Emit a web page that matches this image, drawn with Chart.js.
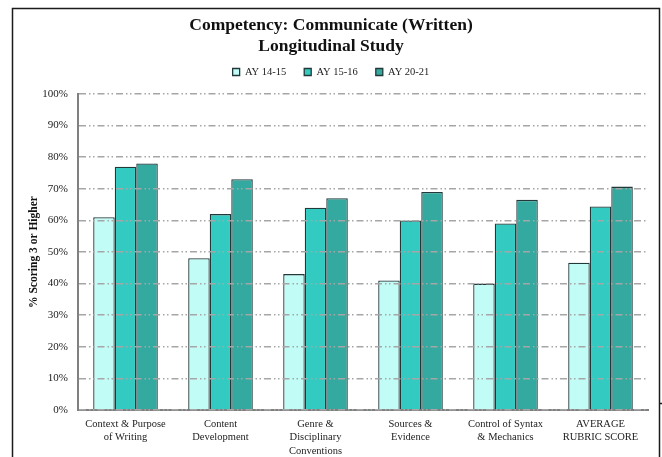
<!DOCTYPE html>
<html lang="en">
<head>
    <meta charset="UTF-8">
    <title>Competency: Communicate (Written)</title>
    <script src="https://cdn.jsdelivr.net/npm/chart.js"></script>
    <style>
        body { margin: 0; background: #fff; }
        #wrap { width: 662px; height: 457px; }
    </style>
</head>
<body>
    <div id="wrap"><canvas id="writtenChart" width="662" height="457"></canvas></div>

    <script>
        // Rubric criteria and % of students scoring 3 or higher per cohort
        const criteria = [
            ['Context & Purpose', 'of Writing'],
            ['Content', 'Development'],
            ['Genre &', 'Disciplinary', 'Conventions'],
            ['Sources &', 'Evidence'],
            ['Control of Syntax', '& Mechanics'],
            ['AVERAGE', 'RUBRIC SCORE']
        ];
        const cohorts = ['AY 14-15', 'AY 15-16', 'AY 20-21'];
        const ay1415 = [61, 48, 43, 41, 40, 46.6];
        const ay1516 = [77, 62, 64, 60, 59, 64.4];
        const ay2021 = [78, 73, 67, 69, 66.5, 70.7];
        const yTicks = [0, 10, 20, 30, 40, 50, 60, 70, 80, 90, 100];

        const serif = '"Liberation Serif", "Times New Roman", serif';
        const fills = ['#c2fcf6', '#33cbc1', '#33a99f'];

        // thin frame around the whole figure
        const framePlugin = {
            id: 'frame',
            afterDraw(chart) {
                const ctx = chart.ctx;
                ctx.save();
                ctx.strokeStyle = '#1a1a1a';
                ctx.lineWidth = 1.5;
                ctx.beginPath();
                ctx.moveTo(12.5, 457);
                ctx.lineTo(12.5, 8.5);
                ctx.lineTo(659.5, 8.5);
                ctx.lineTo(659.5, 457);
                ctx.moveTo(659.5, 403.5);
                ctx.lineTo(662, 403.5);
                ctx.stroke();
                ctx.restore();
            }
        };

        // extra gap between the legend and the plot area
        const legendGap = {
            id: 'legendGap',
            beforeInit(chart) {
                const fit = chart.legend.fit;
                chart.legend.fit = function () {
                    fit.call(this);
                    this.height += 6.75;
                };
            }
        };

        const series = [ay1415, ay1516, ay2021];
        const ctx = document.getElementById('writtenChart').getContext('2d');
        new Chart(ctx, {
            type: 'bar',
            data: {
                labels: criteria,
                datasets: cohorts.map((name, i) => ({
                    label: name,
                    data: series[i],
                    backgroundColor: fills[i],
                    borderColor: '#22393a',
                    borderWidth: 1.3,
                    borderSkipped: 'bottom',
                    categoryPercentage: 0.68,
                    barPercentage: 1.0
                }))
            },
            options: {
                responsive: false,
                animation: false,
                layout: { padding: { left: 14, right: 14, top: 0, bottom: 0 } },
                plugins: {
                    title: {
                        display: true,
                        text: ['Competency: Communicate (Written)', 'Longitudinal Study'],
                        color: '#111',
                        font: { family: serif, size: 17.5, weight: 'bold', lineHeight: 1.2 },
                        padding: { top: 15, bottom: -8.25 }
                    },
                    legend: {
                        position: 'top',
                        labels: {
                            color: '#222',
                            font: { family: serif, size: 10.5 },
                            boxWidth: 7,
                            boxHeight: 7,
                            padding: 18
                        }
                    },
                    tooltip: { enabled: false }
                },
                scales: {
                    x: {
                        grid: { display: false },
                        border: { color: '#808080', width: 2 },
                        ticks: {
                            color: '#222',
                            font: { family: serif, size: 10.5, lineHeight: 1.25 },
                            maxRotation: 0,
                            autoSkip: false,
                            padding: 0
                        },
                        afterFit: (scale) => { scale.height = 47; }
                    },
                    y: {
                        min: 0,
                        max: 100,
                        afterBuildTicks: (scale) => {
                            scale.ticks = yTicks.map(v => ({ value: v }));
                        },
                        grid: {
                            color: '#a6a6a6',
                            lineWidth: 1.5,
                            drawTicks: false,
                            z: 1
                        },
                        border: { color: '#808080', width: 2, z: 1, dash: [7, 3, 1.5, 2.5, 1.5, 3] },
                        ticks: {
                            color: '#222',
                            font: { family: serif, size: 11 },
                            padding: 10,
                            callback: (v) => v + '%'
                        },
                        title: {
                            display: true,
                            text: '% Scoring 3 or Higher',
                            color: '#111',
                            font: { family: serif, size: 11.5, weight: 'bold' },
                            padding: { top: 13, bottom: 0 }
                        },
                        afterFit: (scale) => { scale.width = 64; }
                    }
                }
            },
            plugins: [framePlugin, legendGap]
        });
    </script>
</body>
</html>
